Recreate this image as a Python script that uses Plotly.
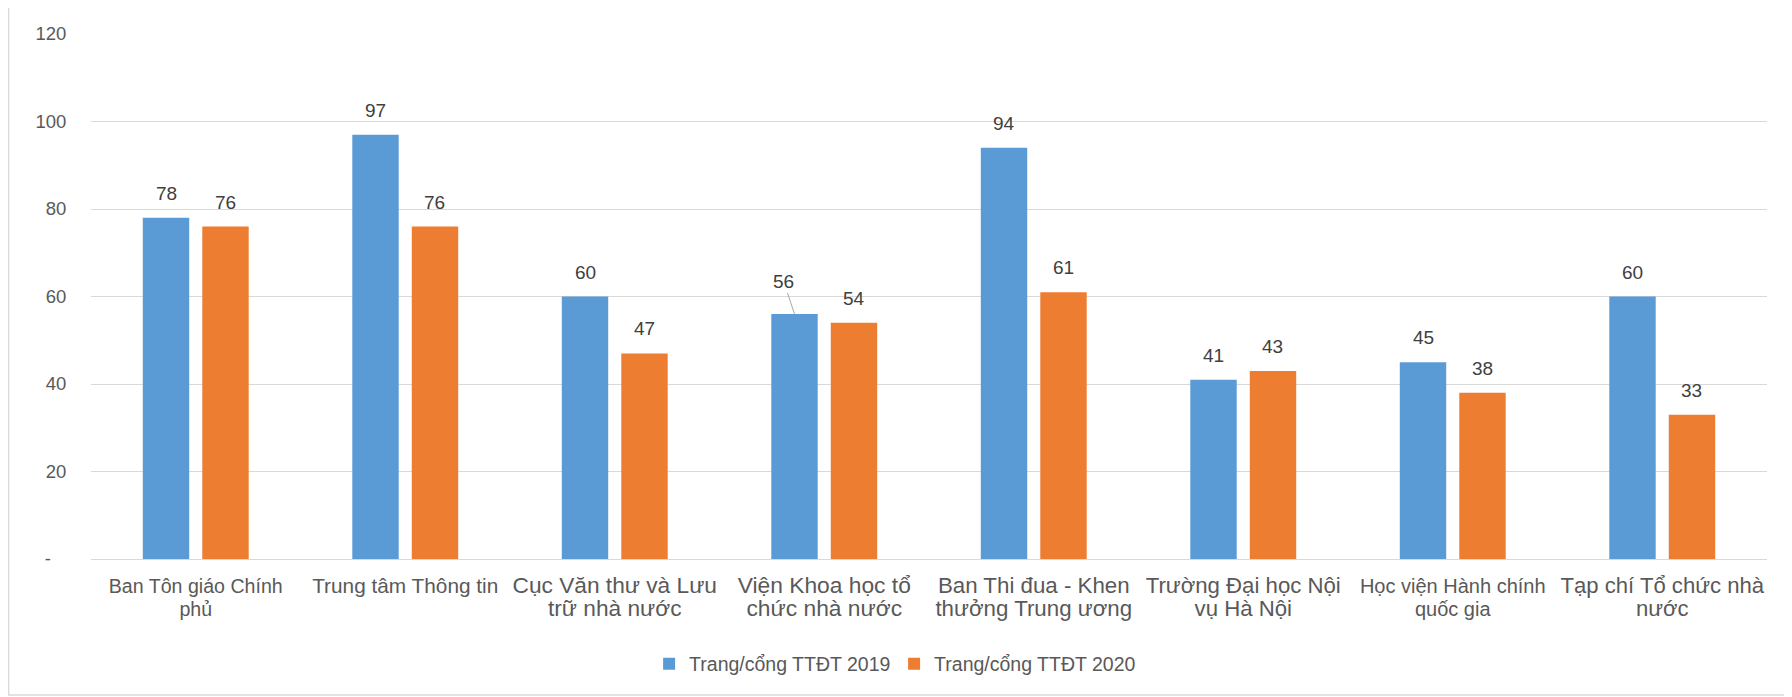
import plotly.graph_objects as go

categories = [
    "Ban Tôn giáo Chính<br>phủ",
    "Trung tâm Thông tin",
    "Cục Văn thư và Lưu<br>trữ nhà nước",
    "Viện Khoa học tổ<br>chức nhà nước",
    "Ban Thi đua - Khen<br>thưởng Trung ương",
    "Trường Đại học Nội<br>vụ Hà Nội",
    "Học viện Hành chính<br>quốc gia",
    "Tạp chí Tổ chức nhà<br>nước",
]
label_sizes = [19.6, 20.8, 22.7, 22.8, 22.3, 22.2, 20, 22.1]
series_names = ["Trang/cổng TTĐT 2019", "Trang/cổng TTĐT 2020"]
values_2019 = [78, 97, 60, 56, 94, 41, 45, 60]
values_2020 = [76, 76, 47, 54, 61, 43, 38, 33]
colors = ["#5B9BD5", "#ED7D31"]
y_ticks = [0, 20, 40, 60, 80, 100, 120]
y_ticktext = ["-\u00a0\u00a0\u00a0", "20", "40", "60", "80", "100", "120"]

W, H = 1778, 689
L, R, T, B = 83, 19, 26, 138
pw, ph = W - L - R, H - T - B

FONT = "Liberation Sans, Arial, sans-serif"
xs = list(range(len(categories)))
slot = pw / len(categories) * (1 - 0.432) / 2

fig = go.Figure()
for name, vals, col in zip(series_names, [values_2019, values_2020], colors):
    fig.add_trace(go.Bar(x=xs, y=vals, name=name, marker=dict(color=col, line=dict(width=0))))

annotations = []
for k, vals in enumerate([values_2019, values_2020]):
    sh = -slot / 2 if k == 0 else slot / 2
    for i, v in enumerate(vals):
        if k == 0 and i == 3:
            annotations.append(dict(x=i, y=v, xref="x", yref="y", text=str(v), showarrow=True,
                                    arrowhead=0, arrowwidth=1, arrowcolor="#A6A6A6", ax=-11, ay=-33,
                                    xshift=sh, standoff=0,
                                    font=dict(family=FONT, size=19, color="#404040")))
        else:
            annotations.append(dict(x=i, y=v, xref="x", yref="y", text=str(v), showarrow=False,
                                    xshift=sh, yshift=12, yanchor="bottom",
                                    font=dict(family=FONT, size=19, color="#404040")))

ticktext = [f"<span style='font-size:{s}px'>{c}</span>" for c, s in zip(categories, label_sizes)]

fig.update_layout(
    width=W, height=H,
    margin=dict(l=L, r=R, t=T, b=B, pad=0),
    paper_bgcolor="white", plot_bgcolor="white",
    barmode="group", bargap=0.432, bargroupgap=0.22,
    font=dict(family=FONT, size=18, color="#595959"),
    xaxis=dict(tickmode="array", tickvals=xs, ticktext=ticktext, range=[-0.5, 7.5],
               showgrid=False, zeroline=False, showline=False,
               ticks="outside", ticklen=11, tickcolor="rgba(0,0,0,0)",
               tickfont=dict(family=FONT, color="#595959")),
    yaxis=dict(range=[0, 120], tickmode="array", tickvals=y_ticks, ticktext=y_ticktext,
               showgrid=True, gridcolor="#D9D9D9", gridwidth=1.3,
               zeroline=True, zerolinecolor="#D9D9D9", zerolinewidth=1.3, showline=False,
               ticks="outside", ticklen=20, tickcolor="rgba(0,0,0,0)",
               tickfont=dict(family=FONT, size=18.5, color="#595959")),
    legend=dict(orientation="h", x=0.333, xanchor="left", y=-0.2, yanchor="middle",
                entrywidth=200, entrywidthmode="pixels",
                font=dict(family=FONT, size=19.5, color="#595959"), traceorder="normal"),
    annotations=annotations,
    shapes=[dict(type="rect", xref="paper", yref="paper",
                 x0=(0.7 - L) / pw, x1=(1777 - L) / pw,
                 y0=(H - B - 687) / ph, y1=(H - B + 1) / ph,
                 line=dict(color="#D9D9D9", width=1.3), fillcolor="rgba(0,0,0,0)", layer="below")],
)

fig.write_html("out.html")
